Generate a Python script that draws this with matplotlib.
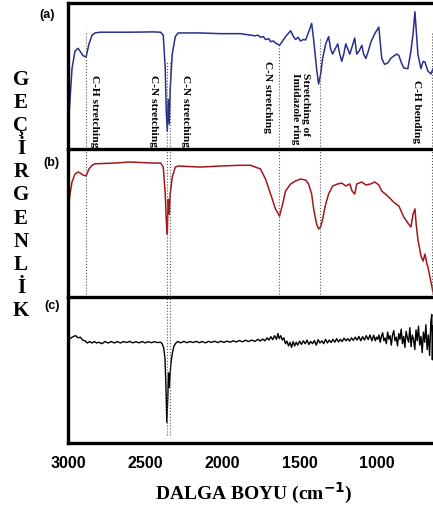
import matplotlib.pyplot as plt

# wavenumber (cm-1) and relative transmittance for each spectrum
wn_a = [2994, 2987, 2974, 2955, 2935, 2922, 2903, 2883, 2864, 2844, 2825, 2792, 2600, 2450, 2400,
        2383, 2370, 2364, 2357, 2351, 2344, 2338, 2325, 2305, 2286, 2143, 2013, 1883, 1818, 1790,
        1770, 1753, 1735, 1721, 1700, 1688, 1670, 1656, 1630, 1610, 1591, 1558, 1540, 1526, 1510,
        1494, 1475, 1461, 1442, 1422, 1409, 1390, 1377, 1364, 1351, 1331, 1312, 1299, 1286, 1270,
        1253, 1240, 1227, 1214, 1201, 1188, 1175, 1160, 1143, 1130, 1115, 1097, 1085, 1071, 1055,
        1039, 1013, 987, 968, 950, 929, 910, 890, 870, 857, 840, 825, 799, 779, 765, 753, 745, 734,
        714, 700, 688, 669, 649, 636]
t_a = [22.6, 34, 55, 67, 69, 67, 64, 63, 72, 78, 79.5, 80, 80, 80.2, 80,
       78, 55, 27, 12, 34, 17, 41, 65, 77, 79.5, 79.5, 79, 79, 78, 77.5,
       78, 76.5, 77, 75, 75.5, 73.5, 74, 72.6, 71, 74, 77, 81, 77, 75, 76.5,
       74, 75, 74.7, 80, 86, 75, 55, 44.5, 51, 62, 72, 77, 68.5, 65, 68.5,
       72, 65, 60, 65, 72, 68.5, 65, 70, 76, 65, 67, 71, 65, 62, 67,
       73, 79, 83.5, 62, 58, 58.9, 62, 63.7, 65, 64, 58.9, 55.5, 55, 67, 79, 94, 82, 65,
       55, 60, 59.5, 53.4, 51.4, 55]

wn_b = [2994, 2987, 2974, 2955, 2935, 2922, 2903, 2883, 2864, 2844, 2825, 2700, 2600, 2450, 2400,
        2383, 2370, 2364, 2357, 2351, 2344, 2338, 2325, 2305, 2286, 2143, 2013, 1883, 1818, 1753,
        1721, 1688, 1656, 1630, 1610, 1591, 1558, 1526, 1494, 1461, 1442, 1422, 1409, 1390, 1377,
        1364, 1351, 1331, 1312, 1286, 1253, 1227, 1201, 1175, 1160, 1143, 1130, 1097, 1071, 1039,
        1013, 987, 968, 929, 890, 857, 825, 799, 779, 765, 753, 745, 734, 714, 700, 688, 675, 669,
        649, 636]
t_b = [64, 69.6, 77.7, 83, 84.5, 83.8, 82.4, 81.8, 86.5, 89, 90, 90.5, 91.2, 90.5, 90.5,
       87.8, 69.6, 52.7, 42.6, 66, 56, 69.6, 81, 87.8, 88.5, 87.8, 88.5, 89, 89, 86.5,
       79.7, 69.6, 59.5, 54.7, 62.8, 71.6, 76.4, 78.4, 79.7, 79, 76.4, 69.6, 59.5, 49.3, 46,
       47.3, 52.7, 62.8, 69.6, 75, 76.4, 77, 75, 76.4, 71.6, 69.6, 76.4, 77.7, 75.7, 76.4,
       77.7, 75.7, 71.6, 68.2, 64, 61.5, 54, 50, 47.3, 56, 59.5, 49.3, 39.2, 27.7, 24.3, 29, 22.3, 20.3,
       10, 3.4]

wn_c = [2994, 2980, 2965, 2950, 2935, 2920, 2905, 2890, 2875, 2860, 2845, 2830, 2815, 2800, 2780,
        2760, 2740, 2720, 2700, 2680, 2660, 2640, 2620, 2600, 2580, 2560, 2540, 2520, 2500, 2480,
        2460, 2440, 2420, 2400, 2390, 2380, 2372, 2366, 2360, 2354, 2349, 2344, 2339, 2333, 2325,
        2315, 2305, 2290, 2270, 2250, 2230, 2210, 2190, 2170, 2150, 2130, 2110, 2090, 2070, 2050,
        2030, 2010, 1990, 1970, 1950, 1930, 1910, 1890, 1870, 1850, 1830, 1810, 1790, 1770, 1755,
        1740, 1725, 1710, 1698, 1686, 1674, 1662, 1650, 1640, 1632, 1622, 1612, 1602, 1592, 1582,
        1572, 1562, 1552, 1542, 1532, 1522, 1512, 1500, 1488, 1476, 1464, 1452, 1440, 1428, 1416,
        1404, 1392, 1380, 1368, 1356, 1344, 1332, 1320, 1308, 1296, 1284, 1272, 1260, 1248, 1236,
        1224, 1212, 1200, 1188, 1176, 1164, 1152, 1140, 1128, 1116, 1104, 1092, 1080, 1068, 1056,
        1044, 1032, 1020, 1010, 1002, 994, 986, 978, 970, 962, 954, 946, 938, 930,
        922, 914, 906, 898, 890, 882, 874, 866, 858, 850, 842, 834, 826, 818, 810,
        802, 794, 786, 778, 770, 762, 754, 746, 738, 730, 722, 714, 706, 698, 690,
        682, 674, 666, 658, 650, 644, 640, 636]
t_c = [71, 72, 73, 73.5, 72, 72.5, 70.5, 70, 68.5, 69.5, 68.5, 69.5, 68.5, 69, 68,
       69.5, 68.5, 69.5, 68.5, 69.5, 68.5, 69.5, 68.8, 69.6, 68.6, 69.4, 68.6, 69.5, 68.6, 69.4,
       68.7, 69.4, 68.8, 69, 68, 65, 58, 40, 14, 30, 48, 38, 47, 55, 61,
       66, 68, 69.5, 68.6, 69.6, 68.7, 69.5, 68.8, 69.6, 68.7, 69.5, 68.6, 69.6, 68.9, 69.7,
       68.8, 69.7, 68.9, 69.8, 69, 70, 69.2, 70.2, 69.3, 70.4, 69.5, 70.5, 69.6, 71, 69.8,
       71.2, 70, 72, 70.5, 72.8, 70.8, 73.5, 71, 75, 71.5, 73.5, 70.5, 72, 68, 69.8,
       66.5, 69, 65.5, 69.5, 66.5, 69, 67, 69.8, 67.5, 70, 68, 70.5, 67.5, 69.5, 68,
       70.2, 67, 70.8, 68.5, 70, 68, 71, 68.5, 70.5, 68.8, 71, 69, 71.5, 69.2, 71,
       69.5, 71.8, 70, 71.5, 69.8, 72, 70.3, 72.5, 70.5, 73, 70, 72.8, 70.5, 73.5, 70.8,
       74, 70, 73.8, 70, 72.5, 71, 74, 69, 73, 75.5, 70, 72, 68, 76,
       71, 73.5, 67, 74, 77, 70, 72.5, 66.5, 75, 71, 78, 68, 73, 65.5, 76.5,
       72, 69, 79, 66, 74, 71, 64, 77.5, 70, 80, 67, 73, 62, 76, 69,
       81, 64, 74, 60, 83, 88, 57, 80]

# assigned bands: position, label, start of dotted line in panel (a), reaches panel (c)
band_pos = [2883, 2362, 2337, 1632, 1368, 645]
band_top = [80.8, 60, 60, 71, 76, 80]
band_full = [False, True, True, False, False, False]
label_txt = ['C-H stretching', 'C-N stretching', 'C-N stretching', 'C-N stretching',
             'Stretching of\nImidazole ring', 'C-H bending']
label_x = [2831, 2448, 2240, 1708, 1494, 746]
label_y = [51.4, 51.4, 51.4, 61, 52.7, 48]

xticks = [3000, 2500, 2000, 1500, 1000]
ylabel_letters = ['G', 'E', 'Ç', 'İ', 'R', 'G', 'E', 'N', 'L', 'İ', 'K']

W, H = 433, 510
fig = plt.figure(figsize=(W / 100, H / 100), dpi=100)

left = 68 / W
rows = [(4, 150), (150, 298), (298, 444)]
axes = []
for top, bot in rows:
    ax = fig.add_axes([left, 1 - bot / H, 1 - left, (bot - top) / H])
    ax.set_xlim(3000, 636)
    ax.set_ylim(0, 100)
    ax.set_yticks([])
    for s in ax.spines.values():
        s.set_linewidth(2.4)
    ax.spines['right'].set_visible(False)
    axes.append(ax)

ax_a, ax_b, ax_c = axes
for ax in (ax_a, ax_b):
    ax.spines['bottom'].set_visible(False)
    ax.set_xticks([])

ax_a.plot(wn_a, t_a, color='#27308a', lw=1.1)
ax_b.plot(wn_b, t_b, color='#a3171b', lw=1.1)
ax_c.plot(wn_c, t_c, color='black', lw=1.0)

for pos, top, full in zip(band_pos, band_top, band_full):
    ax_a.axvline(pos, ymin=0, ymax=top / 100, color='#555555', ls=':', lw=0.8)
    ax_b.axvline(pos, color='#555555', ls=':', lw=0.8)
    if full:
        ax_c.axvline(pos, ymin=0.055, ymax=1, color='#555555', ls=':', lw=0.8)

for txt, x, y in zip(label_txt, label_x, label_y):
    ax_a.text(x, y, txt, rotation=-90, ha='center', va='top', fontsize=8.2,
              fontweight='bold', family='Liberation Serif', multialignment='left')

ax_c.set_xticks(xticks)
ax_c.set_xticklabels([str(t) for t in xticks], fontsize=11.5, fontweight='bold',
                     family='Liberation Sans')
ax_c.tick_params(axis='x', length=0, pad=9)

for lab, (px, py) in zip(['(a)', '(b)', '(c)'], [(47, 15), (51, 163), (52, 306)]):
    fig.text(px / W, 1 - py / H, lab, ha='center', va='center', fontsize=9,
             fontweight='bold', family='Liberation Sans')

for i, ch in enumerate(ylabel_letters):
    fig.text(21 / W, 1 - (80 + i * 23.1) / H, ch, ha='center', va='center', fontsize=15,
             fontweight='bold', family='Liberation Serif')

fig.text(254 / W, 1 - 493 / H, 'DALGA BOYU (cm$^{\\mathbf{-1}}$)', ha='center', va='center',
         fontsize=14, fontweight='bold', family='Liberation Serif')

fig.savefig('out.png', dpi=100)
